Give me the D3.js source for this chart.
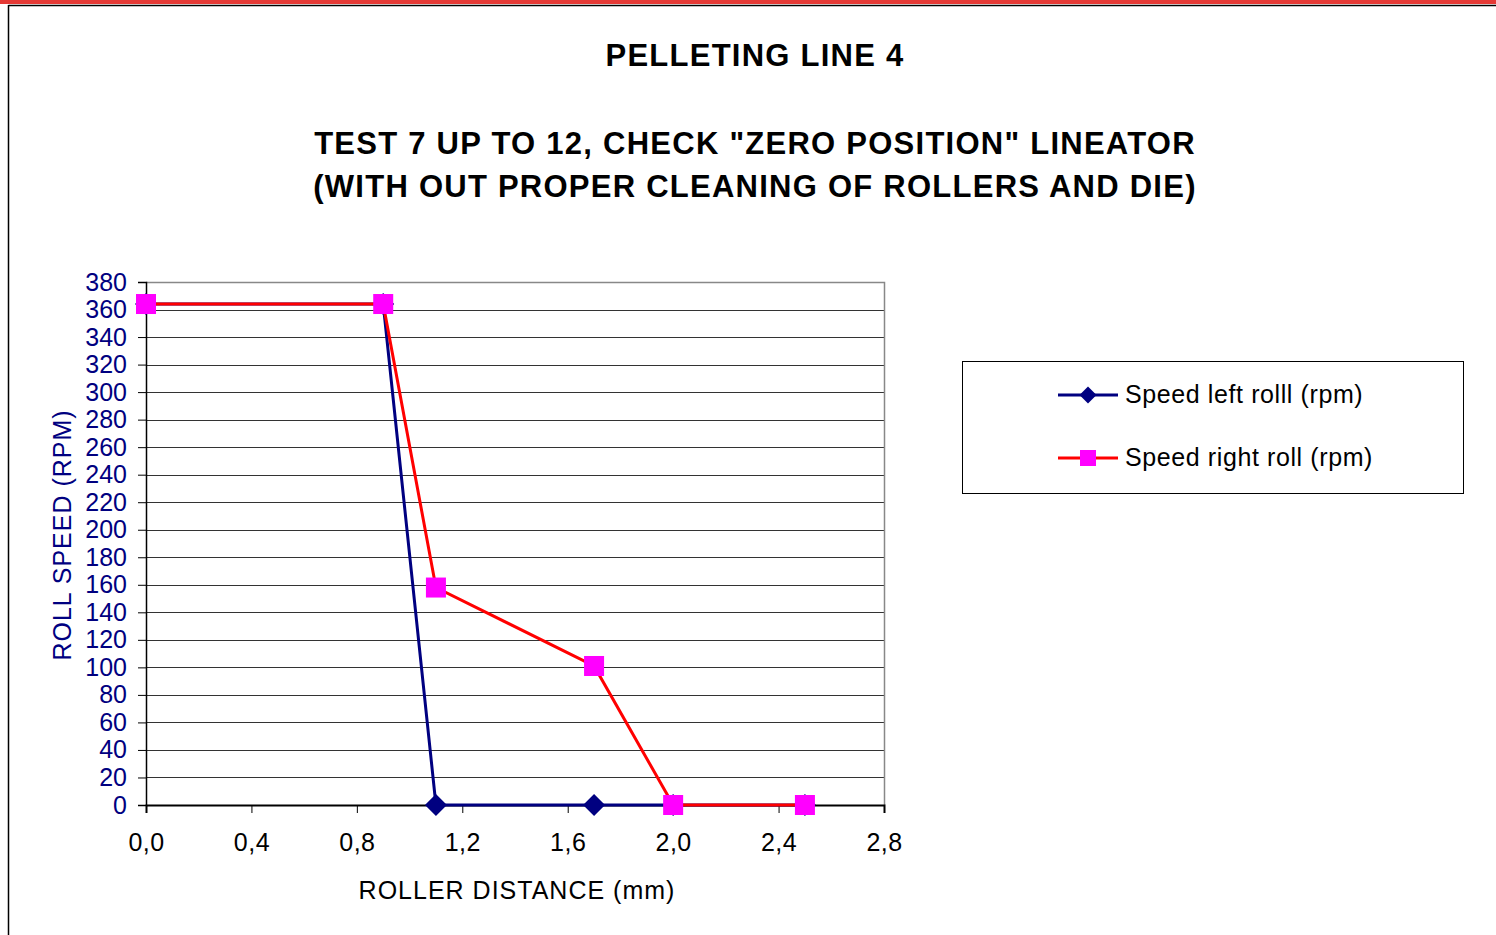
<!DOCTYPE html>
<html><head><meta charset="utf-8">
<script src="https://cdn.jsdelivr.net/npm/d3@7"></script>
<style>body{margin:0;background:#fff}svg{display:block}text{font-family:"Liberation Sans",Arial,sans-serif}</style>
</head><body>
<svg id="c" width="1496" height="935"></svg>
<script>
const xValues = [0.0, 0.9, 1.1, 1.7, 2.0, 2.5];
const leftRoll = [364, 364, 0, 0, 0, 0];
const rightRoll = [364, 364, 158, 101, 0, 0];
const seriesNames = ["Speed left rolll (rpm)", "Speed right roll (rpm)"];
const xTicks = [0, 0.4, 0.8, 1.2, 1.6, 2.0, 2.4, 2.8];
const yTicks = d3.range(0, 381, 20);
const titleLines = ["PELLETING LINE 4", "TEST 7 UP TO 12, CHECK \"ZERO POSITION\" LINEATOR", "(WITH OUT PROPER CLEANING OF ROLLERS AND DIE)"];

const svg = d3.select("#c");
// page frame
svg.append("rect").attr("x",0).attr("y",0).attr("width",1496).attr("height",4).attr("fill","#e53935");
svg.append("line").attr("x1",8.5).attr("x2",1496).attr("y1",5.5).attr("y2",5.5).attr("stroke","#000").attr("stroke-width",1.5);
svg.append("line").attr("x1",8.5).attr("x2",8.5).attr("y1",5).attr("y2",935).attr("stroke","#000").attr("stroke-width",1.5);

// titles
const tY = [55, 143, 186];
titleLines.forEach((t,i)=>{
  svg.append("text").attr("x",755).attr("y",tY[i]+11).attr("text-anchor","middle")
    .attr("font-size",31).attr("font-weight","bold").attr("letter-spacing","1.25px").attr("fill","#000").text(t);
});

const x = d3.scaleLinear().domain([0,2.8]).range([146,884]);
const y = d3.scaleLinear().domain([0,380]).range([805,282]);

// gridlines
svg.append("g").selectAll("line").data(yTicks.filter(d=>d>0&&d<380)).join("line")
  .attr("x1",x(0)).attr("x2",x(2.8)).attr("y1",d=>Math.round(y(d))+0.5).attr("y2",d=>Math.round(y(d))+0.5)
  .attr("stroke","#333").attr("stroke-width",1);
// frame top/right gray
svg.append("path").attr("d",`M${x(0)},${Math.round(y(380))+0.5}H${x(2.8)+0.5}V${y(0)}`)
  .attr("fill","none").attr("stroke","#888").attr("stroke-width",1.5);

// y axis
const yAxis = d3.axisLeft(y).tickValues(yTicks).tickSize(8).tickPadding(11).tickFormat(d3.format("d"));
const gy = svg.append("g").attr("transform",`translate(${x(0)},0)`).call(yAxis);
gy.select(".domain").attr("stroke","#000").attr("stroke-width",1.5);
gy.selectAll(".tick line").attr("stroke","#000").attr("stroke-width",1);
gy.selectAll(".tick text").attr("font-size",25).attr("fill","#000080").attr("font-family","Liberation Sans, Arial, sans-serif");

// x axis
const xAxis = d3.axisBottom(x).tickValues(xTicks).tickSize(8).tickPadding(20).tickFormat(d=>d3.format(".1f")(d).replace(".",","));
const gx = svg.append("g").attr("transform",`translate(0,${y(0)})`).call(xAxis);
gx.select(".domain").attr("stroke","#000").attr("stroke-width",2);
gx.selectAll(".tick line").attr("stroke","#000").attr("stroke-width",1);
gx.selectAll(".tick text").attr("font-size",25).attr("letter-spacing","0.5px").attr("fill","#000").attr("font-family","Liberation Sans, Arial, sans-serif");

// axis titles
svg.append("text").attr("x",517).attr("y",899).attr("text-anchor","middle").attr("font-size",25).attr("letter-spacing","1px").attr("fill","#000").text("ROLLER DISTANCE (mm)");
svg.append("text").attr("transform","translate(71,535) rotate(-90)").attr("text-anchor","middle").attr("font-size",25).attr("letter-spacing","1px").attr("fill","#000080").text("ROLL SPEED (RPM)");

const line = d3.line().x(d=>x(d[0])).y(d=>y(d[1]));
const leftData = xValues.map((v,i)=>[v,leftRoll[i]]);
const rightData = xValues.map((v,i)=>[v,rightRoll[i]]);

svg.append("path").datum(leftData).attr("d",line).attr("fill","none").attr("stroke","#000080").attr("stroke-width",3);
const diamond = s => `M0,${-s}L${s},0L0,${s}L${-s},0Z`;
svg.append("g").selectAll("path").data(leftData).join("path")
  .attr("transform",d=>`translate(${x(d[0])},${y(d[1])})`).attr("d",diamond(11)).attr("fill","#000080");

svg.append("path").datum(rightData).attr("d",line).attr("fill","none").attr("stroke","#ff0000").attr("stroke-width",3);
svg.append("g").selectAll("rect").data(rightData).join("rect")
  .attr("x",d=>x(d[0])-10).attr("y",d=>y(d[1])-10).attr("width",20).attr("height",20).attr("fill","#ff00ff");

// legend
svg.append("rect").attr("x",962.5).attr("y",361.5).attr("width",501).attr("height",132).attr("fill","#fff").attr("stroke","#000").attr("stroke-width",1);
const legY = [395, 458];
const lg = svg.append("g");
lg.append("line").attr("x1",1058).attr("x2",1118).attr("y1",legY[0]).attr("y2",legY[0]).attr("stroke","#000080").attr("stroke-width",3);
lg.append("path").attr("transform",`translate(1088,${legY[0]})`).attr("d",diamond(8.5)).attr("fill","#000080");
lg.append("line").attr("x1",1058).attr("x2",1118).attr("y1",legY[1]).attr("y2",legY[1]).attr("stroke","#ff0000").attr("stroke-width",3);
lg.append("rect").attr("x",1080).attr("y",legY[1]-8).attr("width",16).attr("height",16).attr("fill","#ff00ff");
seriesNames.forEach((n,i)=>{
  lg.append("text").attr("x",1125).attr("y",legY[i]+8).attr("font-size",25).attr("letter-spacing","0.6px").attr("fill","#000").text(n);
});
</script>
</body></html>
